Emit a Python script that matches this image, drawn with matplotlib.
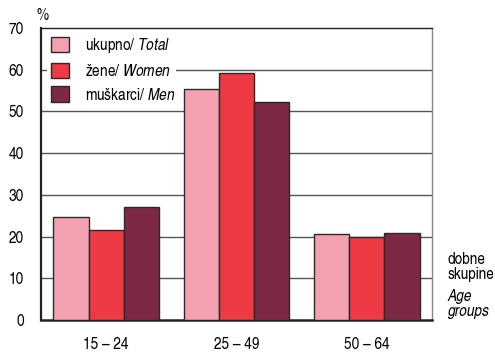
import matplotlib
matplotlib.use("Agg")
import matplotlib.pyplot as plt
from matplotlib.patches import Patch, Rectangle
import numpy as np

plt.rcParams['font.family'] = ['TeX Gyre Heros Cn', 'Liberation Sans Narrow', 'DejaVu Sans']
plt.rcParams['mathtext.fontset'] = 'custom'
plt.rcParams['mathtext.it'] = 'TeX Gyre Heros Cn:italic'
plt.rcParams['mathtext.rm'] = 'TeX Gyre Heros Cn'

categories = ["15 – 24", "25 – 49", "50 – 64"]
total = [24.7, 55.4, 20.6]
women = [21.6, 59.2, 19.9]
men = [27.1, 52.3, 20.9]
series_labels = [r"ukupno/ $\it{Total}$", r"žene/ $\it{Women}$", r"muškarci/ $\it{Men}$"]
colors = ["#F4A0AF", "#EE3A44", "#7D2845"]
yticks = [0, 10, 20, 30, 40, 50, 60, 70]
FS = 12

fig = plt.figure(figsize=(4.95, 3.52), dpi=100)
ax = fig.add_axes([41 / 495, 1 - 320 / 352, 391 / 495, 292 / 352])

x = np.arange(len(categories))
w = 0.27
for i, (vals, col) in enumerate(zip([total, women, men], colors)):
    ax.bar(x + (i - 1) * w, vals, width=w, color=col, edgecolor="#2a2a2a",
           linewidth=1.0, zorder=3)

ax.set_xlim(-0.5, 2.5)
ax.set_ylim(0, 70)
ax.set_yticks(yticks)
ax.set_xticks(x)
ax.set_xticklabels(categories, fontsize=FS)
ax.tick_params(axis="x", length=0, pad=12)
ax.tick_params(axis="y", length=0, pad=12.5, labelsize=FS)
for yv in yticks[1:-1]:
    ax.axhline(yv, color="#555555", linewidth=1.0, zorder=1)

for side in ["top", "left", "bottom"]:
    ax.spines[side].set_color("#222222")
ax.spines["left"].set_linewidth(1.6)
ax.spines["bottom"].set_linewidth(1.8)
ax.spines["top"].set_linewidth(1.0)
ax.spines["right"].set_color("#888888")
ax.spines["right"].set_linewidth(1.0)

# white panel behind the legend
ax.add_patch(Rectangle((6 / 391, 1 - 80 / 292), 129 / 391, 79 / 292,
                       transform=ax.transAxes, facecolor="white",
                       edgecolor="none", zorder=2))
handles = [Patch(facecolor=c, edgecolor="#2a2a2a", linewidth=1.0) for c in colors]
leg = ax.legend(handles, series_labels, loc="upper left",
                bbox_to_anchor=(10 / 391, 1 - 8 / 292), frameon=False,
                fontsize=FS, handlelength=1.1, handleheight=1.05,
                handletextpad=0.95, labelspacing=0.45, borderaxespad=0,
                borderpad=0)
leg.set_zorder(4)

fig.text(43 / 495, 1 - 15 / 352, "%", fontsize=FS, ha="center", va="center")
fig.text(447 / 495, 1 - 267 / 352, "dobne\nskupine", fontsize=FS,
         ha="left", va="center", linespacing=1.05)
fig.text(447 / 495, 1 - 304 / 352, "Age\ngroups", fontsize=FS, style="italic",
         ha="left", va="center", linespacing=1.05)

fig.savefig("out.png", dpi=100)
